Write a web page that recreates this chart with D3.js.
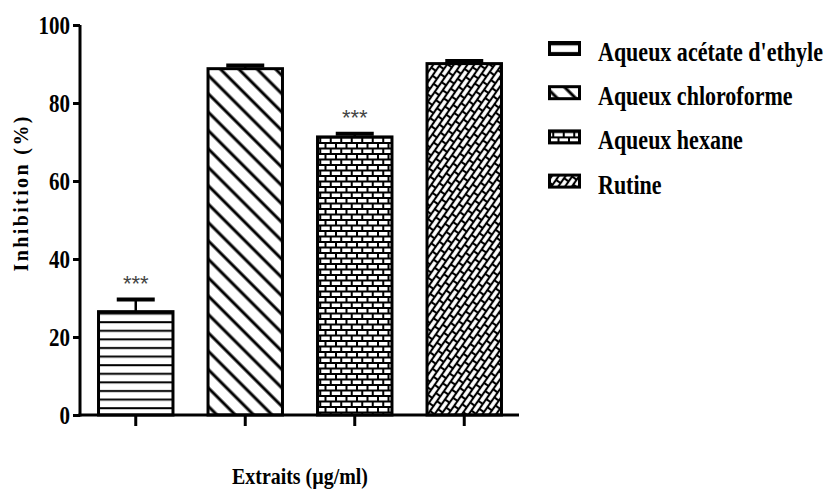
<!DOCTYPE html>
<html>
<head>
<meta charset="utf-8">
<script src="https://cdn.jsdelivr.net/npm/d3@7"></script>
<style>
  body { margin: 0; background: #fff; }
  text { font-family: "Liberation Serif", "Times New Roman", serif; font-weight: bold; }
</style>
</head>
<body>
<svg id="chart" width="827" height="493"></svg>
<script>
// Inhibition (%) per extract, with SEM and significance marks
const categories = ["Aqueux acétate d'ethyle", "Aqueux chloroforme", "Aqueux hexane", "Rutine"];
const inhibition = [26.5, 88.8, 71.3, 90.1];
const errorSEM = [3.1, 0.8, 0.8, 0.7];
const significance = ["***", "", "***", ""];
const yTicks = [0, 20, 40, 60, 80, 100];
const yTitle = "Inhibition (%)";
const xTitle = "Extraits (µg/ml)";

const svg = d3.select("#chart");
const defs = svg.append("defs");

// horizontally condense a text element around its own anchor point
function condense(node, factor, ax, ay) {
  node.setAttribute("transform",
    `translate(${ax},${ay}) scale(${factor},1) translate(${-ax},${-ay})`);
}

// ---- fill patterns ----
// horizontal lines
const pH = defs.append("pattern").attr("id", "pat0").attr("patternUnits", "userSpaceOnUse")
  .attr("width", 10).attr("height", 8.6);
pH.append("rect").attr("width", 10).attr("height", 8.6).attr("fill", "#fff");
pH.append("line").attr("x1", 0).attr("x2", 10).attr("y1", 4).attr("y2", 4)
  .attr("stroke", "#000").attr("stroke-width", 2);

// descending diagonal lines
const pD = defs.append("pattern").attr("id", "pat1").attr("patternUnits", "userSpaceOnUse")
  .attr("width", 13).attr("height", 13).attr("patternTransform", "rotate(-45)");
pD.append("rect").attr("width", 13).attr("height", 13).attr("fill", "#fff");
pD.append("line").attr("x1", 3).attr("x2", 3).attr("y1", 0).attr("y2", 13)
  .attr("stroke", "#000").attr("stroke-width", 3);

// brick wall
function bricks(id, w, h, mortar, transform) {
  const p = defs.append("pattern").attr("id", id).attr("patternUnits", "userSpaceOnUse")
    .attr("width", w).attr("height", 2 * h);
  if (transform) p.attr("patternTransform", transform);
  p.append("rect").attr("width", w).attr("height", 2 * h).attr("fill", "#000");
  const bw = w / 2 - mortar, bh = h - mortar;
  [[mortar / 2, mortar / 2], [w / 2 + mortar / 2, mortar / 2],
   [-w / 4 + mortar / 2, h + mortar / 2], [w / 4 + mortar / 2, h + mortar / 2], [3 * w / 4 + mortar / 2, h + mortar / 2]]
    .forEach(([bx, by]) => p.append("rect").attr("x", bx).attr("y", by)
      .attr("width", bw).attr("height", bh).attr("fill", "#fff"));
}
bricks("pat2", 21, 5.5, 2, null);
bricks("pat3", 24, 5.6, 2.1, "rotate(-55)");

// ---- scales ----
const y = d3.scaleLinear().domain([0, 100]).range([415, 25]);
const x = d3.scaleBand().domain(categories).range([81, 519]).paddingInner(0.32).paddingOuter(0.16);

// ---- bars ----
const bars = svg.append("g");
bars.selectAll("rect").data(categories).join("rect")
  .attr("x", d => x(d))
  .attr("width", x.bandwidth())
  .attr("y", (d, i) => y(inhibition[i]))
  .attr("height", (d, i) => y(0) - y(inhibition[i]))
  .attr("fill", (d, i) => `url(#pat${i})`)
  .attr("stroke", "#000").attr("stroke-width", 3);

// ---- error bars (upper only) ----
const err = svg.append("g").attr("stroke", "#000");
categories.forEach((c, i) => {
  const cx = x(c) + x.bandwidth() / 2;
  err.append("line").attr("x1", cx).attr("x2", cx)
    .attr("y1", y(inhibition[i])).attr("y2", y(inhibition[i] + errorSEM[i]))
    .attr("stroke-width", 2.5);
  err.append("line").attr("x1", cx - 19).attr("x2", cx + 19)
    .attr("y1", y(inhibition[i] + errorSEM[i])).attr("y2", y(inhibition[i] + errorSEM[i]))
    .attr("stroke-width", 4);
});

// ---- significance stars ----
svg.append("g").selectAll("text").data(categories).join("text")
  .attr("x", d => x(d) + x.bandwidth() / 2)
  .attr("y", (d, i) => y(inhibition[i] + errorSEM[i]) - 9)
  .attr("text-anchor", "middle")
  .style("font-family", "'Liberation Sans', Arial, sans-serif")
  .style("font-weight", "normal")
  .style("font-size", "22px")
  .attr("fill", "#444")
  .text((d, i) => significance[i]);

// ---- axes ----
const yAxis = svg.append("g").attr("transform", "translate(80,0)")
  .call(d3.axisLeft(y).tickValues(yTicks).tickSize(7).tickSizeOuter(0).tickPadding(3));
const xAxis = svg.append("g").attr("transform", `translate(0,${y(0)})`)
  .call(d3.axisBottom(x).tickSize(11).tickSizeOuter(0).tickFormat(""));

[yAxis, xAxis].forEach(a => {
  a.select(".domain").attr("stroke", "#000").attr("stroke-width", 3);
  a.selectAll(".tick line").attr("stroke", "#000").attr("stroke-width", 3);
});
xAxis.select(".domain").attr("d", `M78.5,0H519`);
yAxis.select(".domain").attr("d", `M0,${y(0) + 1.5}V${y(100)}`);

yAxis.selectAll(".tick text")
  .style("font-family", "'Liberation Serif', serif").style("font-weight", "bold")
  .style("font-size", "25px").attr("fill", "#000")
  .attr("dy", "0.34em")
  .each(function () { condense(this, 0.84, -10, 0); });

// ---- axis titles ----
svg.append("text")
  .attr("transform", "translate(28,194) rotate(-90)")
  .attr("text-anchor", "middle")
  .style("font-size", "20px")
  .attr("textLength", 155).attr("lengthAdjust", "spacing")
  .text(yTitle);

const xt = svg.append("text")
  .attr("x", 300).attr("y", 484)
  .attr("text-anchor", "middle")
  .style("font-size", "24px")
  .text(xTitle);
condense(xt.node(), 136 / xt.node().getComputedTextLength(), 300, 484);

// ---- legend ----
const legend = svg.append("g").attr("transform", "translate(548,0)");
const rows = legend.selectAll("g").data(categories).join("g")
  .attr("transform", (d, i) => `translate(0,${49 + 44.2 * i})`);
rows.append("rect")
  .attr("x", 1.5).attr("y", -6.5).attr("width", 30).attr("height", 12)
  .attr("fill", (d, i) => `url(#pat${i})`)
  .attr("stroke", "#000").attr("stroke-width", 3);
const ltext = rows.append("text")
  .attr("x", 50).attr("y", 12)
  .style("font-size", "27px")
  .text(d => d);
const squeeze = 225 / ltext.nodes()[0].getComputedTextLength();
ltext.each(function () { condense(this, squeeze, 50, 12); });
</script>
</body>
</html>
